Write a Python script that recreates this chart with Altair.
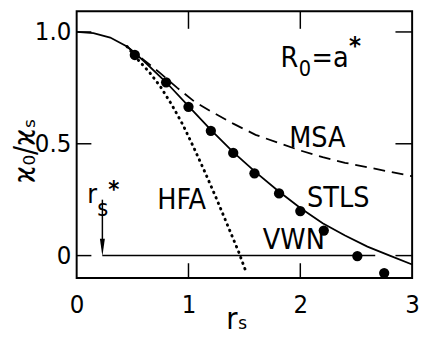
import altair as alt
import pandas as pd

FONT = "Liberation Sans Narrow, DejaVu Sans Condensed, Liberation Sans, sans-serif"

# STLS (solid line)
stls_x = [0.0, 0.15, 0.3, 0.45, 0.52, 0.6, 0.8, 1.0, 1.2, 1.4, 1.6, 1.8, 2.0, 2.2, 2.4, 2.6, 2.8, 3.0]
stls_y = [1.0, 0.995, 0.975, 0.935, 0.905, 0.87, 0.775, 0.668, 0.562, 0.463, 0.373, 0.29, 0.213, 0.145, 0.09, 0.04, 0.0, -0.04]
# MSA (dashed line)
msa_x = [0.45, 0.6, 0.75, 0.9, 1.05, 1.2, 1.4, 1.6, 1.8, 2.0, 2.2, 2.4, 2.6, 2.8, 3.0]
msa_y = [0.935, 0.875, 0.815, 0.75, 0.69, 0.645, 0.59, 0.54, 0.505, 0.47, 0.44, 0.415, 0.395, 0.375, 0.355]
# HFA (dotted line)
hfa_x = [0.45, 0.55, 0.65, 0.75, 0.85, 0.95, 1.05, 1.15, 1.25, 1.35, 1.45, 1.52]
hfa_y = [0.935, 0.875, 0.82, 0.755, 0.675, 0.585, 0.48, 0.37, 0.255, 0.135, 0.015, -0.08]
# VWN (dots)
vwn_x = [0.52, 0.80, 1.0, 1.2, 1.4, 1.59, 1.81, 2.0, 2.21, 2.51, 2.75]
vwn_y = [0.897, 0.775, 0.665, 0.558, 0.459, 0.368, 0.278, 0.199, 0.112, -0.002, -0.078]

# reference zero line and r_s* marker
zero_x = [0.23, 2.67]
zero_y = [0.0, 0.0]
rs_star = 0.23
arrow_top = 0.25
arrow_bottom = 0.05
arrow_head_y = 0.036

x_tick_vals = [1, 2]
y_tick_vals = [0, 0.5, 1.0]
x_label_vals = [0, 1, 2, 3]
y_label_vals = [0, 0.5, 1.0]

W, H = 342, 272
TL = 15

xscale = alt.Scale(domain=[0, 3], nice=False, zero=False)
yscale = alt.Scale(domain=[-0.1, 1.093], nice=False, zero=False)

xaxis = alt.Axis(values=x_label_vals, format="d", title="rₛ", domain=False, ticks=False,
                 tickSize=0, grid=False, labelFont=FONT, labelFontSize=26, labelColor="black",
                 labelPadding=14, labelFlush=False, labelOverlap=False,
                 titleFont=FONT, titleFontSize=31, titleFontWeight="normal", titleColor="black",
                 titleX=163, titleY=52, titleBaseline="alphabetic", titleAlign="center")
yaxis = alt.Axis(values=y_label_vals, labelExpr="datum.value == 0 ? '0' : format(datum.value, '.1f')",
                 title="ϰ₀/ϰₛ", domain=False, ticks=False, tickSize=0, grid=False,
                 labelFont=FONT, labelFontSize=26, labelColor="black", labelPadding=6,
                 labelFlush=False, labelOverlap=False,
                 titleFont=FONT, titleFontSize=30, titleFontWeight="normal", titleColor="black",
                 titleAngle=270, titleX=-37, titleY=142, titleBaseline="bottom", titleAlign="center")


def X(f="x"):
    return alt.X(f + ":Q", scale=xscale, axis=xaxis)


def Y(f="y"):
    return alt.Y(f + ":Q", scale=yscale, axis=yaxis)


stls = alt.Chart(pd.DataFrame({"x": stls_x, "y": stls_y})).mark_line(
    color="black", strokeWidth=1.8).encode(x=X(), y=Y())
msa = alt.Chart(pd.DataFrame({"x": msa_x, "y": msa_y})).mark_line(
    color="black", strokeWidth=1.8, strokeDash=[12, 7]).encode(x=X(), y=Y())
hfa = alt.Chart(pd.DataFrame({"x": hfa_x, "y": hfa_y})).mark_line(
    color="black", strokeWidth=3, strokeDash=[0.5, 5.5], strokeCap="round").encode(x=X(), y=Y())
vwn = alt.Chart(pd.DataFrame({"x": vwn_x, "y": vwn_y})).mark_circle(
    color="black", size=110, opacity=1).encode(x=X(), y=Y())
zero = alt.Chart(pd.DataFrame({"x": zero_x, "y": zero_y})).mark_line(
    color="black", strokeWidth=1.5).encode(x=X(), y=Y())
arrow = alt.Chart(pd.DataFrame({"x": [rs_star], "y": [arrow_top], "y2": [arrow_bottom]})).mark_rule(
    color="black", strokeWidth=1.5).encode(x=X(), y=Y(), y2="y2:Q")
head = alt.Chart(pd.DataFrame({"x": [rs_star], "y": [arrow_head_y]})).mark_point(
    shape="M-0.28,-1L0.28,-1L0,1Z", size=324, filled=True, color="black", opacity=1).encode(x=X(), y=Y())

# frame ticks (inward)
tdf_x = pd.DataFrame({"x": x_tick_vals})
tdf_y = pd.DataFrame({"y": y_tick_vals})
t_bottom = alt.Chart(tdf_x).mark_rule(color="black", strokeWidth=1.5).encode(
    x=X(), y=alt.value(H - TL), y2=alt.value(H))
t_top = alt.Chart(tdf_x).mark_rule(color="black", strokeWidth=1.5).encode(
    x=X(), y=alt.value(0), y2=alt.value(TL + 3))
t_left = alt.Chart(tdf_y).mark_rule(color="black", strokeWidth=1.5).encode(
    y=Y(), x=alt.value(0), x2=alt.value(TL))
t_right = alt.Chart(tdf_y).mark_rule(color="black", strokeWidth=1.5).encode(
    y=Y(), x=alt.value(W - TL - 2), x2=alt.value(W))

# text annotations: (text, x, y, size, baseline, weight)
labels = [
    ("R", 1.822, 0.843, 29, "alphabetic", "normal"),
    ("0", 1.985, 0.805, 22, "alphabetic", "normal"),
    ("=a", 2.10, 0.843, 29, "alphabetic", "normal"),
    ("*", 2.435, 0.993, 26, "top", "bold"),
    ("MSA", 1.90, 0.484, 29, "alphabetic", "normal"),
    ("STLS", 2.06, 0.216, 29, "alphabetic", "normal"),
    ("VWN", 1.665, 0.028, 29, "alphabetic", "normal"),
    ("HFA", 0.72, 0.207, 29, "alphabetic", "normal"),
    ("r", 0.094, 0.235, 27, "alphabetic", "normal"),
    ("s", 0.183, 0.175, 24, "alphabetic", "normal"),
    ("*", 0.283, 0.345, 24, "top", "bold"),
]
text_layers = []
for t, lx, ly, sz, bl, wt in labels:
    text_layers.append(
        alt.Chart(pd.DataFrame({"x": [lx], "y": [ly], "t": [t]})).mark_text(
            align="left", baseline=bl, font=FONT, fontSize=sz, fontWeight=wt, color="black").encode(
            x=X(), y=Y(), text="t:N"))

chart = alt.layer(stls, msa, hfa, zero, arrow, head, vwn, t_bottom, t_top, t_left, t_right,
                  *text_layers).properties(
    width=W, height=H,
    autosize=alt.AutoSizeParams(type="none"),
    padding={"left": 70, "top": 0, "right": 7, "bottom": 58},
    background="white",
).configure_view(stroke="black", strokeWidth=2)

chart.save("out.html", embed_options={"renderer": "svg", "actions": False})
